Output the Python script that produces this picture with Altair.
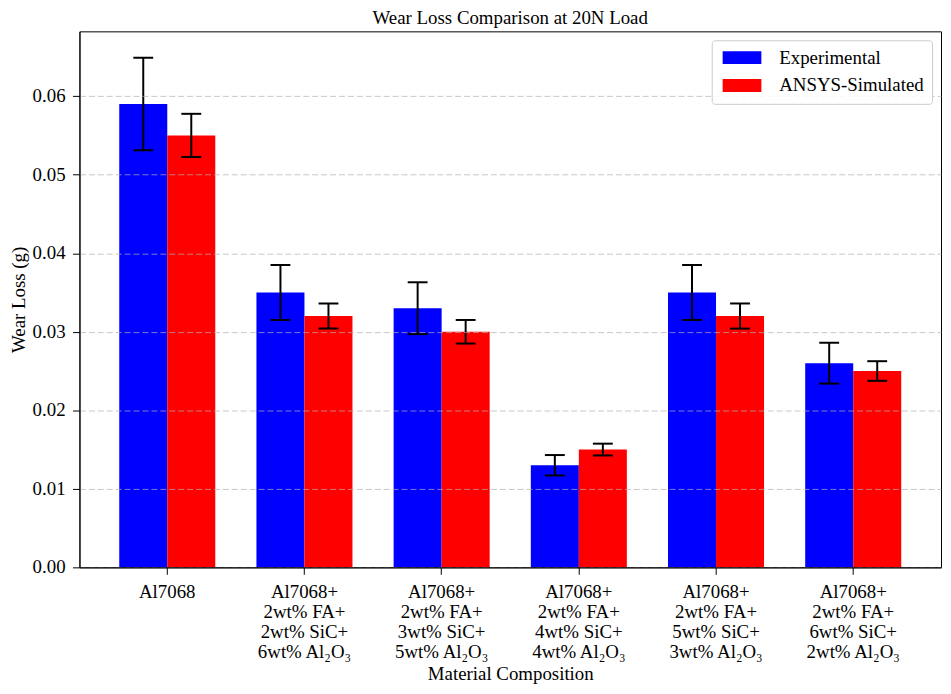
import altair as alt
import pandas as pd

categories = [
    "Al7068",
    "Al7068+\n2wt% FA+\n2wt% SiC+\n6wt% Al₂O₃",
    "Al7068+\n2wt% FA+\n3wt% SiC+\n5wt% Al₂O₃",
    "Al7068+\n2wt% FA+\n4wt% SiC+\n4wt% Al₂O₃",
    "Al7068+\n2wt% FA+\n5wt% SiC+\n3wt% Al₂O₃",
    "Al7068+\n2wt% FA+\n6wt% SiC+\n2wt% Al₂O₃",
]
series_names = ["Experimental", "ANSYS-Simulated"]
experimental = [0.059, 0.035, 0.033, 0.013, 0.035, 0.026]
simulated = [0.055, 0.032, 0.030, 0.015, 0.032, 0.025]
experimental_err = [0.0059, 0.0035, 0.0033, 0.0013, 0.0035, 0.0026]
simulated_err = [0.00275, 0.0016, 0.0015, 0.00075, 0.0016, 0.00125]
y_ticks = [0.0, 0.01, 0.02, 0.03, 0.04, 0.05, 0.06]
y_tick_labels = ["0.00", "0.01", "0.02", "0.03", "0.04", "0.05", "0.06"]

rows = []
for i, c in enumerate(categories):
    rows.append(dict(category=c, series=series_names[0], value=experimental[i], err=experimental_err[i]))
    rows.append(dict(category=c, series=series_names[1], value=simulated[i], err=simulated_err[i]))
df = pd.DataFrame(rows)
df["low"] = df["value"] - df["err"]
df["high"] = df["value"] + df["err"]

xlab_df = pd.DataFrame({"category": categories})
ylab_df = pd.DataFrame({"tick": y_ticks, "label": y_tick_labels})

FONT = "Liberation Serif"
FS = 19
W, H = 868, 540

x_scale = alt.Scale(domain=categories, paddingInner=0.3, paddingOuter=0.29)
x_axis = alt.Axis(
    title="Material Composition",
    labels=False,
    tickSize=7,
    tickColor="black",
    domainColor="black",
    grid=False,
    titleFont=FONT,
    titleFontSize=FS,
    titleFontWeight="normal",
    titleColor="black",
    titlePadding=90,
    zindex=2,
)
x_enc = alt.X("category:N", sort=categories, scale=x_scale, axis=x_axis)
xoff_enc = alt.XOffset("series:N", sort=series_names, scale=alt.Scale(paddingInner=0, paddingOuter=0))
y_scale = alt.Scale(domain=[0, 0.06825], nice=False, zero=True)
y_axis = alt.Axis(
    title="Wear Loss (g)",
    values=y_ticks,
    labels=False,
    grid=True,
    gridDash=[6, 3],
    gridColor="#b0b0b0",
    gridOpacity=0.7,
    tickSize=7,
    tickColor="black",
    domainColor="black",
    titleFont=FONT,
    titleFontSize=FS,
    titleFontWeight="normal",
    titleColor="black",
    titlePadding=44,
    zindex=1,
)

base = alt.Chart(df).encode(x=x_enc, xOffset=xoff_enc)

bars = base.mark_bar().encode(
    y=alt.Y("value:Q", scale=y_scale, axis=y_axis),
    color=alt.Color(
        "series:N",
        sort=series_names,
        scale=alt.Scale(domain=series_names, range=["#0000ff", "#ff0000"]),
        legend=alt.Legend(
            title=None,
            orient="top-right",
            offset=9,
            symbolType="M-1,-1H5V1H-1Z",
            symbolSize=169,
            symbolStrokeWidth=0,
            symbolOpacity=1,
            labelFont=FONT,
            labelFontSize=FS,
            labelColor="black",
            labelOffset=41,
            padding=8,
            rowPadding=8,
            strokeColor="#cccccc",
            fillColor="rgba(255,255,255,0.85)",
            cornerRadius=3,
            zindex=2,
        ),
    ),
)

rules = base.mark_rule(color="black", strokeWidth=2).encode(
    y=alt.Y("low:Q", scale=y_scale, axis=y_axis),
    y2="high:Q",
)
caps_low = base.mark_tick(color="black", size=20, thickness=2, opacity=1).encode(
    y=alt.Y("low:Q", scale=y_scale, axis=y_axis),
)
caps_high = base.mark_tick(color="black", size=20, thickness=2, opacity=1).encode(
    y=alt.Y("high:Q", scale=y_scale, axis=y_axis),
)

x_labels = alt.Chart(xlab_df).mark_text(
    font=FONT, fontSize=FS, color="black", baseline="top", align="center",
    lineBreak="\n", lineHeight=20,
).encode(
    x=alt.X("category:N", sort=categories, scale=x_scale, axis=x_axis),
    y=alt.value(H + 16),
    text="category:N",
)

y_labels = alt.Chart(ylab_df).mark_text(
    font=FONT, fontSize=FS, color="black", baseline="middle", align="right",
).encode(
    y=alt.Y("tick:Q", scale=y_scale, axis=y_axis),
    x=alt.value(-14),
    text="label:N",
)

chart = (
    alt.layer(bars, rules, caps_low, caps_high, x_labels, y_labels)
    .properties(
        width=W,
        height=H,
        title=alt.Title(
            "Wear Loss Comparison at 20N Load",
            font=FONT,
            fontSize=FS,
            fontWeight="normal",
            color="black",
            offset=3,
        ),
        padding={"left": 72, "top": 21, "right": 2, "bottom": 117},
        autosize=alt.AutoSizeParams(type="none"),
    )
    .configure_view(stroke="black", strokeWidth=1)
)

chart.save("out.html", embed_options={"renderer": "svg", "actions": False})
